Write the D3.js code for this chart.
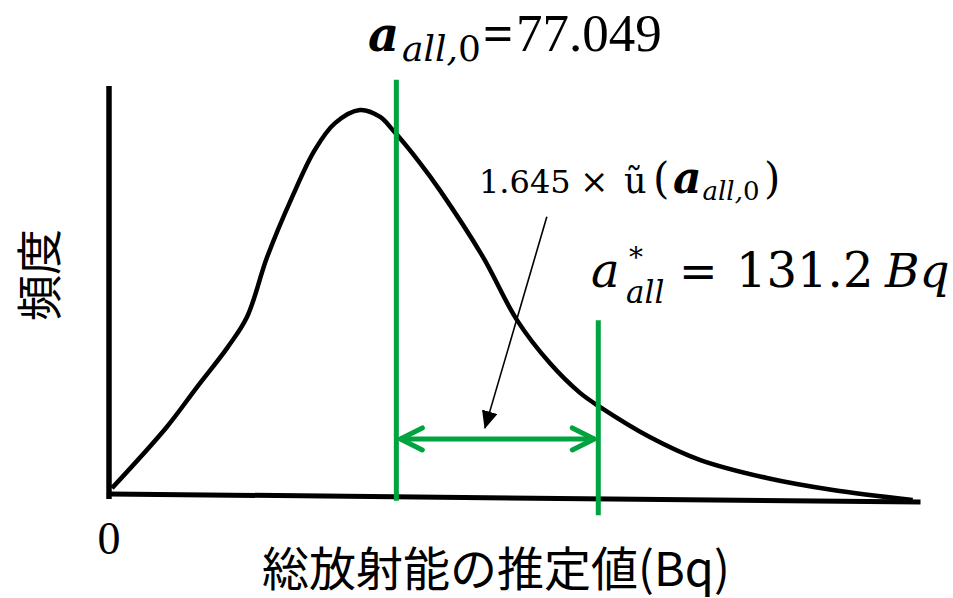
<!DOCTYPE html>
<html>
<head>
<meta charset="utf-8">
<script src="https://cdn.jsdelivr.net/npm/d3@7"></script>
<style>
  body { margin: 0; background: #fff; }
</style>
</head>
<body>
<svg id="grafica"></svg>
<script>
// Distribución del estimado de actividad total (esquema)

const svg_w = 953; // ancho del svg
const svg_h = 598; // alto del svg

// curva de frecuencia (x en Bq, y normalizada)
const curva_x = [0.8, 15.5, 23.6, 31.9, 37.0, 42.4, 49.1, 55.2, 60.6, 67.3, 72.7, 76.1, 83.4, 88.7, 100.3, 109.4, 118.2, 126.3, 131.6, 145.0, 158.4, 176.4, 194.1, 215.5];
const curva_y = [0.023, 0.181, 0.284, 0.388, 0.465, 0.620, 0.775, 0.897, 0.966, 1.0, 0.982, 0.948, 0.863, 0.793, 0.620, 0.457, 0.346, 0.269, 0.233, 0.155, 0.096, 0.049, 0.018, -0.008];

const a_all0 = 77.049; // estimado central
const a_star = 131.2;  // límite superior
const factor = "1.645";

const x_label = "総放射能の推定値(Bq)";
const y_label = "頻度";
const x_tick = ["0"];

const verde = "#00a33f";

let svg = d3.select("#grafica")
  .attr("width", svg_w)
  .attr("height", svg_h)

let x_scale = d3.scaleLinear()
  .domain([0, 218])
  .range([109, 922])

let y_scale = d3.scaleLinear()
  .domain([0, 1])
  .range([497, 110])

// ejes (dibujados como líneas gruesas, igual que la figura)
svg.append("line")
  .attr("x1", x_scale(0)).attr("x2", x_scale(0))
  .attr("y1", y_scale(1.062)).attr("y2", y_scale(-0.005))
  .attr("stroke", "black").attr("stroke-width", 5.5)

svg.append("line")
  .attr("x1", x_scale(0)).attr("x2", x_scale(217.6))
  .attr("y1", y_scale(0.008)).attr("y2", y_scale(-0.013))
  .attr("stroke", "black").attr("stroke-width", 5)

// la curva
let puntos = curva_x.map((d, i) => [d, curva_y[i]]);
let linea = d3.line()
  .x(d => x_scale(d[0]))
  .y(d => y_scale(d[1]))
  .curve(d3.curveCatmullRom)

svg.append("path")
  .attr("d", linea(puntos))
  .attr("fill", "none")
  .attr("stroke", "black")
  .attr("stroke-width", 4.5)

// líneas verdes
svg.append("line")
  .attr("x1", x_scale(a_all0)).attr("x2", x_scale(a_all0))
  .attr("y1", y_scale(1.078)).attr("y2", y_scale(-0.01))
  .attr("stroke", verde).attr("stroke-width", 5)

svg.append("line")
  .attr("x1", x_scale(a_star)).attr("x2", x_scale(a_star))
  .attr("y1", y_scale(0.457)).attr("y2", y_scale(-0.047))
  .attr("stroke", verde).attr("stroke-width", 5)

// flecha doble verde
let y_f = y_scale(0.150);
let xl = x_scale(a_all0) + 4;
let xr = x_scale(a_star) - 4;
svg.append("line")
  .attr("x1", xl).attr("x2", xr)
  .attr("y1", y_f).attr("y2", y_f)
  .attr("stroke", verde).attr("stroke-width", 5)
svg.append("path")
  .attr("d", `M${xl+22},${y_f-11}L${xl},${y_f}L${xl+22},${y_f+11}`)
  .attr("fill", "none").attr("stroke", verde).attr("stroke-width", 5)
  .attr("stroke-linecap", "round").attr("stroke-linejoin", "round")
svg.append("path")
  .attr("d", `M${xr-22},${y_f-11}L${xr},${y_f}L${xr-22},${y_f+11}`)
  .attr("fill", "none").attr("stroke", verde).attr("stroke-width", 5)
  .attr("stroke-linecap", "round").attr("stroke-linejoin", "round")

// flecha negra de la anotación
svg.append("defs").append("marker")
  .attr("id", "punta")
  .attr("markerUnits", "userSpaceOnUse")
  .attr("markerWidth", 18).attr("markerHeight", 16)
  .attr("refX", 17).attr("refY", 8)
  .attr("orient", "auto")
  .append("path")
  .attr("d", "M0,0L18,8L0,16Z")
  .attr("fill", "black")

svg.append("line")
  .attr("x1", x_scale(117.4)).attr("y1", y_scale(0.724))
  .attr("x2", x_scale(100.8)).attr("y2", y_scale(0.178))
  .attr("stroke", "black").attr("stroke-width", 1.6)
  .attr("marker-end", "url(#punta)")

// textos
const serif = "'Liberation Serif', 'Times New Roman', serif";
const math = "'DejaVu Serif', serif";
const cjk = "'Noto Sans CJK JP', 'Noto Sans', sans-serif";

// título: a_all,0 = 77.049
let t1 = svg.append("text")
  .attr("y", 51)
  .attr("fill", "black")
t1.append("tspan").text("a").attr("x", 368)
  .attr("font-family", math).attr("font-weight", "bold").attr("font-style", "italic")
  .attr("font-size", 48)
t1.append("tspan").text("all,").attr("x", 402)
  .attr("font-family", math).attr("font-style", "italic")
  .attr("font-size", 36).attr("dy", 10)
t1.append("tspan").text("0")
  .attr("font-family", math)
  .attr("font-size", 36)
t1.append("tspan").text("=").attr("x", 483)
  .attr("font-family", serif).attr("font-weight", "bold").attr("font-size", 53).attr("dy", -10)
t1.append("tspan").text(a_all0.toFixed(3)).attr("x", 516)
  .attr("font-family", serif).attr("font-size", 53)

// anotación: 1.645 × ũ(a_all,0)
let t2 = svg.append("text")
  .attr("y", 193)
  .attr("font-family", math)
  .attr("fill", "black")
t2.append("tspan").text(factor).attr("x", 479).attr("font-size", 32)
t2.append("tspan").text("×").attr("x", 580).attr("font-size", 34)
t2.append("tspan").text("ũ").attr("x", 624).attr("font-size", 35)
t2.append("tspan").text("(").attr("x", 653).attr("font-size", 42)
t2.append("tspan").text("a").attr("x", 673)
  .attr("font-weight", "bold").attr("font-style", "italic").attr("font-size", 44)
t2.append("tspan").text("all,").attr("dx", 1)
  .attr("font-style", "italic").attr("font-size", 26).attr("dy", 7)
t2.append("tspan").text("0").attr("font-size", 26)
t2.append("tspan").text(")").attr("x", 764).attr("font-size", 42).attr("dy", -7)

// a*_all = 131.2 Bq
let t3 = svg.append("text")
  .attr("y", 287)
  .attr("font-family", math)
  .attr("fill", "black")
t3.append("tspan").text("a").attr("x", 591).attr("font-style", "italic").attr("font-size", 48)
t3.append("tspan").text("*").attr("x", 629).attr("font-size", 28).attr("dy", -20)
t3.append("tspan").text("all").attr("x", 626).attr("font-style", "italic").attr("font-size", 31)
  .attr("dy", 36)
t3.append("tspan").text("=").attr("x", 679).attr("font-size", 46).attr("dy", -16)
t3.append("tspan").text(a_star.toFixed(1)).attr("x", 736).attr("font-size", 48)
t3.append("tspan").text("Bq").attr("x", 885).attr("font-style", "italic").attr("font-size", 47)

// etiqueta del cero
svg.selectAll(".tick0")
  .data(x_tick)
  .enter().append("text")
  .attr("x", x_scale(0)).attr("y", 554)
  .attr("text-anchor", "middle")
  .attr("font-family", serif).attr("font-size", 46)
  .text(d => d)

// títulos de los ejes
svg.append("text")
  .attr("x", 496).attr("y", 586)
  .attr("text-anchor", "middle")
  .attr("font-family", cjk).attr("font-size", 47)
  .text(x_label)

svg.append("text")
  .attr("transform", "translate(56,275) rotate(-90)")
  .attr("text-anchor", "middle")
  .attr("font-family", cjk).attr("font-size", 46)
  .text(y_label)
</script>
</body>
</html>
